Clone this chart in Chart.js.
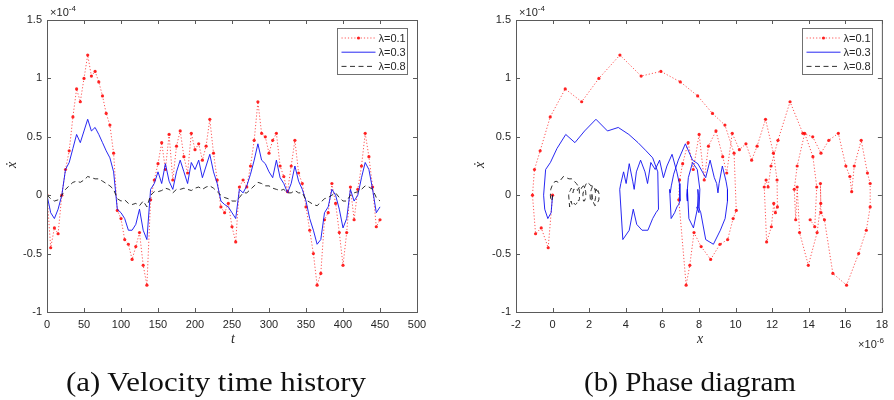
<!DOCTYPE html>
<html>
<head>
<meta charset="utf-8">
<script src="https://cdn.jsdelivr.net/npm/chart.js@4.4.1/dist/chart.umd.min.js"></script>
<style>
    body { margin: 0; background: #fff; width: 894px; height: 400px; position: relative; overflow: hidden; font-family: "Liberation Sans", Arial, sans-serif; }
    .panel { position: absolute; top: 0; width: 447px; height: 400px; }
    #panel-a { left: 0; }
    #panel-b { left: 447px; }
    canvas { display: block; }
    .lbl { position: absolute; white-space: nowrap; color: #262626; line-height: 1; }
    .mult { font-size: 11px; }
    .mult sup { font-size: 8px; position: relative; top: -1px; }
    .ax { font-family: "Liberation Serif", serif; font-style: italic; font-size: 14px; }
    .cap { font-family: "Liberation Serif", serif; font-size: 27px; color: #111; transform-origin: center center; }
</style>
</head>
<body>
<div class="panel" id="panel-a"><canvas id="chart-velocity" width="447" height="400"></canvas></div>
<div class="panel" id="panel-b"><canvas id="chart-phase" width="447" height="400"></canvas></div>

<script>
// valores (velocidad en 1e-4, desplazamiento en 1e-6)
const timeSteps = [0, 5, 10, 15, 20, 25, 30, 35, 40, 45,
    50, 55, 60, 65, 70, 75, 80, 85, 90, 95,
    100, 105, 110, 115, 120, 125, 130, 135, 140, 145,
    150, 155, 160, 165, 170, 175, 180, 185, 190, 195,
    200, 205, 210, 215, 220, 225, 230, 235, 240, 245,
    250, 255, 260, 265, 270, 275, 280, 285, 290, 295,
    300, 305, 310, 315, 320, 325, 330, 335, 340, 345,
    350, 355, 360, 365, 370, 375, 380, 385, 390, 395,
    400, 405, 410, 415, 420, 425, 430, 435, 440, 445,
    450];

const velLam01 = [0, -0.45, -0.28, -0.33, 0.0, 0.22, 0.38, 0.67, 0.91, 0.8,
    1.0, 1.2, 1.02, 1.06, 0.97, 0.85, 0.7, 0.6, 0.36, -0.13,
    -0.2, -0.38, -0.42, -0.55, -0.44, -0.32, -0.6, -0.77, -0.04, 0.13,
    0.27, 0.45, 0.22, 0.52, 0.13, 0.42, 0.55, 0.33, 0.19, 0.53,
    0.39, 0.44, 0.3, 0.42, 0.65, 0.36, 0.13, -0.1, -0.15, -0.07,
    -0.27, -0.4, 0.07, 0.13, 0.07, 0.25, 0.47, 0.8, 0.53, 0.5,
    0.36, 0.47, 0.53, 0.25, 0.16, 0.03, 0.25, 0.47, 0.19, 0.1,
    -0.1, -0.3, -0.5, -0.77, -0.67, -0.21, -0.15, 0.1, -0.07, -0.32,
    -0.6, -0.32, 0.07, -0.21, 0.05, 0.25, 0.53, 0.33, 0.07, -0.27,
    -0.21];

const velLam03 = [0, -0.15, -0.2, -0.12, 0.0, 0.22, 0.28, 0.4, 0.52, 0.45,
    0.55, 0.65, 0.55, 0.58, 0.52, 0.45, 0.38, 0.32, 0.2, -0.12,
    -0.15, -0.2, -0.3, -0.3, -0.25, -0.12, -0.3, -0.38, 0.05, 0.1,
    0.2, 0.1, 0.27, 0.12, 0.05, 0.2, 0.3, 0.2, 0.1, 0.28,
    0.22, 0.3, 0.15, 0.25, 0.35, 0.2, 0.1, -0.05, -0.08, -0.1,
    -0.15, -0.2, 0.05, 0.02, 0.08, 0.18, 0.3, 0.44, 0.3, 0.27,
    0.2, 0.15, 0.3, 0.15, 0.1, 0.02, 0.1, 0.25, 0.12, 0.05,
    -0.05, -0.2, -0.3, -0.42, -0.38, -0.15, -0.1, 0.05, 0.0, -0.12,
    -0.28, -0.2, 0.05, -0.05, 0.0, 0.15, 0.28, 0.22, 0.05, -0.15,
    -0.1];

const velLam08 = [0, -0.03, -0.05, -0.04, 0.0, 0.05, 0.08, 0.11, 0.12, 0.11,
    0.13, 0.16, 0.15, 0.14, 0.14, 0.12, 0.1, 0.08, 0.05, -0.03,
    -0.05, -0.04, -0.07, -0.08, -0.07, -0.09, -0.05, -0.1, 0.0, 0.03,
    0.03, 0.04, 0.06, 0.05, 0.02, 0.05, 0.05, 0.06, 0.05, 0.04,
    0.06, 0.07, 0.05, 0.07, 0.08, 0.06, 0.03, 0.0, -0.02, -0.03,
    -0.05, -0.05, -0.02, 0.02, 0.02, 0.05, 0.08, 0.11, 0.1, 0.08,
    0.08, 0.06, 0.05, 0.04, 0.05, 0.02, 0.02, 0.04, 0.02, 0.02,
    -0.04, -0.06, -0.08, -0.09, -0.06, -0.03, -0.02, 0.0, 0.02, -0.02,
    -0.05, -0.05, 0.0, 0.02, 0.03, 0.05, 0.08, 0.07, 0.05, -0.02,
    -0.05];

const dispLam01 = [0, -0.24, -0.62, -0.93, -1.10, -0.99, -0.68, -0.13, 0.69, 1.59,
    2.53, 3.68, 4.84, 5.92, 6.98, 7.93, 8.74, 9.42, 9.92, 10.04,
    9.87, 9.57, 9.15, 8.64, 8.12, 7.73, 7.50, 7.30, 6.90, 6.94,
    7.11, 7.41, 7.69, 8.01, 8.29, 8.52, 8.93, 9.30, 9.52, 9.82,
    10.21, 10.57, 10.88, 11.18, 11.64, 12.07, 12.27, 12.29, 12.18, 12.09,
    11.96, 11.70, 11.57, 11.67, 11.78, 11.94, 12.32, 12.98, 13.68, 14.22,
    14.67, 15.10, 15.62, 16.03, 16.25, 16.35, 16.49, 16.87, 17.21, 17.36,
    17.36, 17.15, 16.73, 16.07, 15.32, 14.86, 14.67, 14.64, 14.66, 14.46,
    13.98, 13.50, 13.37, 13.29, 13.21, 13.37, 13.78, 14.23, 14.44, 14.33,
    14.08];

const dispLam03 = [0, -0.08, -0.26, -0.43, -0.49, -0.38, -0.12, 0.24, 0.72, 1.22,
    1.75, 2.37, 3.00, 3.59, 4.17, 4.67, 5.11, 5.47, 5.75, 5.79,
    5.65, 5.47, 5.21, 4.89, 4.60, 4.41, 4.19, 3.84, 3.67, 3.73,
    3.88, 4.02, 4.19, 4.38, 4.46, 4.58, 4.81, 5.05, 5.19, 5.37,
    5.61, 5.85, 6.06, 6.25, 6.53, 6.79, 6.93, 6.96, 6.89, 6.80,
    6.67, 6.48, 6.40, 6.43, 6.49, 6.62, 6.87, 7.26, 7.65, 7.94,
    8.19, 8.37, 8.61, 8.84, 8.97, 9.04, 9.10, 9.28, 9.48, 9.56,
    9.56, 9.43, 9.17, 8.79, 8.37, 8.10, 7.97, 7.94, 7.97, 7.91,
    7.70, 7.45, 7.37, 7.37, 7.34, 7.42, 7.65, 7.91, 8.05, 8.00,
    7.87];

const dispLam08 = [0, -0.02, -0.06, -0.10, -0.12, -0.10, -0.03, 0.07, 0.19, 0.31,
    0.44, 0.59, 0.75, 0.90, 1.05, 1.18, 1.30, 1.39, 1.46, 1.47,
    1.43, 1.38, 1.32, 1.25, 1.17, 1.08, 1.01, 0.93, 0.88, 0.90,
    0.93, 0.97, 1.02, 1.08, 1.11, 1.15, 1.20, 1.26, 1.32, 1.36,
    1.42, 1.48, 1.55, 1.61, 1.69, 1.76, 1.81, 1.82, 1.81, 1.79,
    1.74, 1.69, 1.66, 1.66, 1.68, 1.71, 1.78, 1.88, 1.99, 2.09,
    2.17, 2.24, 2.30, 2.35, 2.40, 2.43, 2.45, 2.48, 2.52, 2.54,
    2.53, 2.47, 2.40, 2.31, 2.23, 2.19, 2.16, 2.15, 2.16, 2.16,
    2.13, 2.07, 2.05, 2.06, 2.08, 2.12, 2.19, 2.27, 2.33, 2.35,
    2.31];

const seriesNames = ['λ=0.1', 'λ=0.3', 'λ=0.8'];
const timeTicks = [0, 50, 100, 150, 200, 250, 300, 350, 400, 450, 500];
const dispTicks = [-2, 0, 2, 4, 6, 8, 10, 12, 14, 16, 18];
const velTicks = [-1, -0.5, 0, 0.5, 1, 1.5];

// estilos de cada serie (rojo punteado con marcadores, azul sólido, negro discontinuo)
const seriesStyle = [
    { color: 'rgba(255,0,0,0.85)', dash: [1.2, 2], width: 0.8, radius: 1.6, order: 3 },
    { color: '#1010f0', dash: [], width: 0.9, radius: 0, order: 2 },
    { color: '#1a1a1a', dash: [5, 3.5], width: 0.9, radius: 0, order: 1 }
];

const axisColor = '#5a5a5a';
const textColor = '#262626';
const tickFont = { family: '"Liberation Sans", Arial, sans-serif', size: 11 };

// caja, marcas hacia dentro y leyenda estilo MATLAB
const matlabAxes = {
    id: 'matlabAxes',
    afterDatasetsDraw(chart) {
        const { ctx, chartArea: a, scales } = chart;
        const len = 4;
        ctx.save();
        ctx.strokeStyle = axisColor;
        ctx.lineWidth = 1;
        ctx.setLineDash([]);
        ctx.beginPath();
        scales.x.ticks.forEach(t => {
            const px = Math.round(scales.x.getPixelForValue(t.value)) + 0.5;
            ctx.moveTo(px, a.bottom); ctx.lineTo(px, a.bottom - len);
            ctx.moveTo(px, a.top); ctx.lineTo(px, a.top + len);
        });
        scales.y.ticks.forEach(t => {
            const py = Math.round(scales.y.getPixelForValue(t.value)) + 0.5;
            ctx.moveTo(a.left, py); ctx.lineTo(a.left + len, py);
            ctx.moveTo(a.right, py); ctx.lineTo(a.right - len, py);
        });
        ctx.stroke();
        ctx.strokeRect(a.left + 0.5, a.top + 0.5, a.right - a.left, a.bottom - a.top);

        // leyenda
        const boxW = 70, boxH = 46;
        const bx = Math.round(a.right - 10 - boxW) + 0.5;
        const by = Math.round(a.top + 8) + 0.5;
        ctx.fillStyle = '#fff';
        ctx.fillRect(bx, by, boxW, boxH);
        ctx.strokeStyle = '#707070';
        ctx.strokeRect(bx, by, boxW, boxH);
        ctx.font = '11px "Liberation Sans", Arial, sans-serif';
        ctx.textBaseline = 'middle';
        seriesNames.forEach((name, k) => {
            const st = seriesStyle[k];
            const y = by + 9.5 + k * 14.2;
            ctx.strokeStyle = st.color;
            ctx.lineWidth = st.width;
            ctx.setLineDash(st.dash);
            ctx.beginPath();
            ctx.moveTo(bx + 4, y); ctx.lineTo(bx + 38, y);
            ctx.stroke();
            if (st.radius > 0) {
                ctx.fillStyle = st.color;
                ctx.beginPath();
                ctx.arc(bx + 21, y, st.radius, 0, Math.PI * 2);
                ctx.fill();
            }
            ctx.fillStyle = textColor;
            ctx.fillText(name, bx + 41, y + 0.5);
        });
        ctx.restore();
    }
};

function buildDatasets(xSeries) {
    return [velLam01, velLam03, velLam08].map((vel, k) => {
        const st = seriesStyle[k];
        return {
            label: seriesNames[k],
            data: vel.map((v, i) => ({ x: xSeries[k][i], y: v })),
            showLine: true,
            borderColor: st.color,
            backgroundColor: st.color,
            borderWidth: st.width,
            borderDash: st.dash,
            pointRadius: st.radius,
            pointBorderWidth: 0,
            pointHoverRadius: 0,
            tension: 0,
            order: st.order
        };
    });
}

function axisOptions(min, max, values, fitSide, fitValue, padding) {
    return {
        type: 'linear',
        min: min,
        max: max,
        afterBuildTicks: s => { s.ticks = values.map(v => ({ value: v })); },
        afterFit: s => { s[fitSide] = fitValue; },
        grid: { display: false, drawTicks: false },
        border: { display: false },
        ticks: {
            padding: padding,
            color: textColor,
            font: tickFont,
            maxRotation: 0,
            autoSkip: false,
            callback: v => String(v)
        }
    };
}

function createPanel(canvasId, xSeries, xMin, xMax, xTicks, yAxisWidth, padRight) {
    const ctx = document.getElementById(canvasId);
    return new Chart(ctx, {
        type: 'scatter',
        data: { datasets: buildDatasets(xSeries) },
        options: {
            responsive: false,
            animation: false,
            events: [],
            layout: { padding: { top: 20, right: padRight, bottom: 0, left: 0 } },
            plugins: { legend: { display: false }, tooltip: { enabled: false } },
            scales: {
                x: axisOptions(xMin, xMax, xTicks, 'height', 88, 6),
                y: axisOptions(-1, 1.5, velTicks, 'width', yAxisWidth, 5)
            }
        },
        plugins: [matlabAxes]
    });
}

function addLabel(html, cls, x, y, rotate) {
    const el = document.createElement('div');
    el.className = 'lbl ' + cls;
    el.innerHTML = html;
    el.style.left = x + 'px';
    el.style.top = y + 'px';
    el.style.transform = 'translate(-50%, -50%)' + (rotate ? ' rotate(-90deg)' : '');
    document.body.appendChild(el);
    return el;
}

function addCaption(text, cx, cy, width) {
    const el = addLabel(text, 'cap', cx, cy, false);
    const w = el.getBoundingClientRect().width;
    el.style.transform = 'translate(-50%, -50%) scaleX(' + (width / w).toFixed(3) + ')';
}

// panel (a): historia temporal, panel (b): diagrama de fase
createPanel('chart-velocity', [timeSteps, timeSteps, timeSteps], 0, 500, timeTicks, 47, 30);
createPanel('chart-phase', [dispLam01, dispLam03, dispLam08], -2, 18, dispTicks, 69, 9);

addLabel('×10<sup>-4</sup>', 'mult', 63, 12, false);
addLabel('×10<sup>-4</sup>', 'mult', 532, 12, false);
addLabel('×10<sup>-6</sup>', 'mult', 871, 344, false);
addLabel('t', 'ax', 233, 339, false);
addLabel('x', 'ax', 700, 339, false);
addLabel('x&#775;', 'ax', 12, 165, true);
addLabel('x&#775;', 'ax', 480, 165, true);
addCaption('(a) Velocity time history', 216, 382, 300);
addCaption('(b) Phase diagram', 690, 382, 212);
</script>
</body>
</html>
